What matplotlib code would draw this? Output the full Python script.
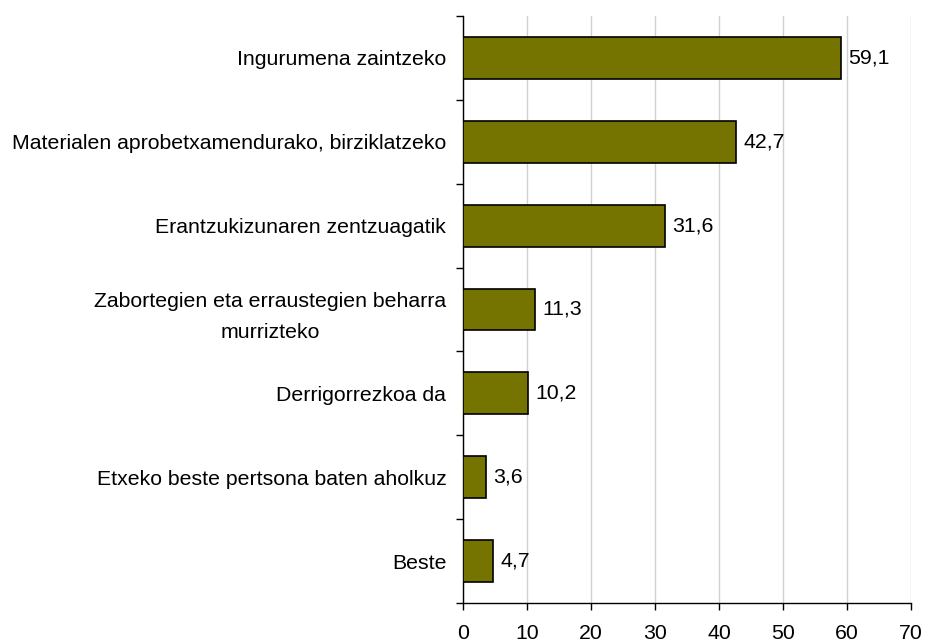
import numpy as np
import matplotlib.pyplot as plt

# categories top to bottom, percentages
categories = [
    "Ingurumena zaintzeko",
    "Materialen aprobetxamendurako, birziklatzeko",
    "Erantzukizunaren zentzuagatik",
    "Zabortegien eta erraustegien beharra\nmurrizteko",
    "Derrigorrezkoa da",
    "Etxeko beste pertsona baten aholkuz",
    "Beste",
]
values = [59.1, 42.7, 31.6, 11.3, 10.2, 3.6, 4.7]
xticks = [0, 10, 20, 30, 40, 50, 60, 70]

plt.rcParams['font.family'] = ['Liberation Sans', 'DejaVu Sans']
fs = 15.3

fig = plt.figure(figsize=(9.26, 6.44), dpi=100)
ax = fig.add_axes([0.5, 0.0637, 0.4838, 0.9115])

n = len(categories)
ypos = np.arange(n)[::-1]
ax.barh(ypos, values, height=0.5, color='#767400', edgecolor='black', linewidth=1.2, zorder=3)

for y, v in zip(ypos, values):
    ax.text(v + 1.1, y, f"{v:.1f}".replace('.', ','), va='center', ha='left', fontsize=fs)

ax.set_xlim(0, 70)
ax.set_ylim(-0.5, n - 0.5)
ax.set_xticks(xticks)
ax.set_xticklabels([str(t) for t in xticks], fontsize=fs)
ax.tick_params(axis='x', length=5, width=1, pad=10, direction='out')

# category labels at bar centres, tick marks at category boundaries
ax.set_yticks(np.arange(-0.5, n, 1.0))
ax.set_yticklabels([])
ax.tick_params(axis='y', which='major', length=5, width=1, direction='out')
ax.set_yticks(ypos, minor=True)
ax.set_yticklabels(categories, minor=True, fontsize=fs, multialignment='center', linespacing=1.75)
ax.tick_params(axis='y', which='minor', length=0, pad=12)

ax.grid(axis='x', color='#d0d0d0', linewidth=1, zorder=0)
ax.spines['top'].set_visible(False)
ax.spines['right'].set_visible(False)
ax.spines['left'].set_linewidth(1)
ax.spines['bottom'].set_linewidth(1)

fig.savefig('out.png', dpi=100)
